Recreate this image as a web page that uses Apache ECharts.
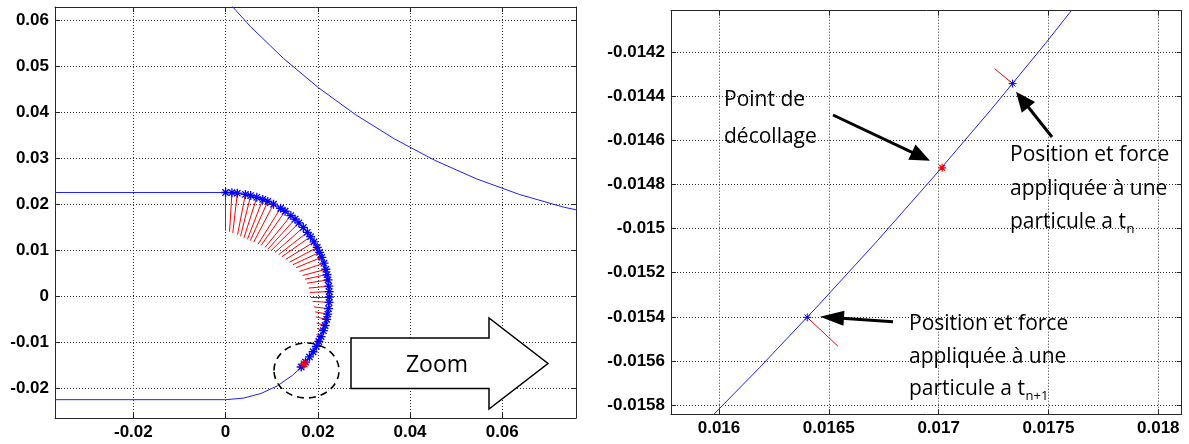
<!DOCTYPE html>
<html><head><meta charset="utf-8">
<script src="https://cdn.jsdelivr.net/npm/echarts@6/dist/echarts.min.js"></script>
<style>html,body{margin:0;padding:0;background:#fff}#c{width:1189px;height:444px}</style>
</head><body><div id="c"></div>
<script>
// ---------------- data ----------------
// inner wall (channel boundary around the cylinder)
const innerWallX = [-0.037, 0, 0.003907, 0.007695, 0.01125, 0.014463, 0.017236, 0.019486, 0.021143, 0.022158, 0.0225,
  0.022158, 0.021143, 0.019486, 0.018203, 0.017969, 0.017730, 0.017486, 0.017236, 0.016981, 0.016721, 0.016455,
  0.016185, 0.015910, 0.015630, 0.015345, 0.014463, 0.01125, 0.007695, 0.003907, 0, -0.037];
const innerWallY = [0.0225, 0.0225, 0.022158, 0.021143, 0.019486, 0.017236, 0.014463, 0.01125, 0.007695, 0.003907, 0,
  -0.003907, -0.007695, -0.01125, -0.013225, -0.013541, -0.013852, -0.014160, -0.014463, -0.014761, -0.015055, -0.015345,
  -0.015630, -0.015910, -0.016185, -0.016455, -0.017236, -0.019486, -0.021143, -0.022158, -0.0225, -0.0225];
// outer wall (large arc, top right)
const outerWallX = [-0.00123, 0.00541, 0.01255, 0.02015, 0.02818, 0.0366, 0.04536, 0.05443, 0.06376, 0.0733, 0.08301];
const outerWallY = [0.0659, 0.05852, 0.05163, 0.04525, 0.03941, 0.03415, 0.02949, 0.02546, 0.02206, 0.01932, 0.01726];
// particles on the wall: polar angle (deg) on the arc of radius particleRadius, and force length (inward +)
const particleRadius = 0.0225;
const particleAngleDeg = [90, 86.5, 83.5, 79, 76, 72.5, 69, 66, 62.5, 58, 55, 51, 48, 45, 41.5, 38, 35, 31.5, 28, 25,
  22, 18.5, 15, 12, 9, 5.5, 2.5, -0.5, -3.5, -7, -10, -13, -16.5, -19.5, -23, -26, -29, -32.5, -36, -39.6, -43.2];
const particleForce = [0.0083, 0.0085, 0.0087, 0.0089, 0.0091, 0.0092, 0.0093, 0.0093, 0.0093, 0.0092, 0.0091, 0.0089,
  0.0087, 0.0085, 0.0082, 0.0079, 0.0076, 0.0072, 0.0068, 0.0064, 0.0060, 0.0056, 0.0052, 0.0049, 0.0046, 0.0044,
  0.0042, 0.0040, 0.0036, 0.0032, 0.0028, 0.0024, 0.0019, 0.0015, 0.0011, 0.0008, 0.0006, 0.0004, 0.0002, 0.000106, -0.000192];
// detachment point
const detachX = [0.017016];
const detachY = [-0.014724];
// ticks
const leftXTicks = [-0.02, 0, 0.02, 0.04, 0.06];
const leftXTickLabels = ['-0.02', '0', '0.02', '0.04', '0.06'];
const leftYTicks = [-0.02, -0.01, 0, 0.01, 0.02, 0.03, 0.04, 0.05, 0.06];
const leftYTickLabels = ['-0.02', '-0.01', '0', '0.01', '0.02', '0.03', '0.04', '0.05', '0.06'];
const rightXTicks = [0.016, 0.0165, 0.017, 0.0175, 0.018];
const rightXTickLabels = ['0.016', '0.0165', '0.017', '0.0175', '0.018'];
const rightYTicks = [-0.0158, -0.0156, -0.0154, -0.0152, -0.015, -0.0148, -0.0146, -0.0144, -0.0142];
const rightYTickLabels = ['-0.0158', '-0.0156', '-0.0154', '-0.0152', '-0.015', '-0.0148', '-0.0146', '-0.0144', '-0.0142'];
// axis ranges
const leftXRange = [-0.0370, 0.0760];
const leftYRange = [-0.02648, 0.06279];
const rightXRange = [0.0157815, 0.0181065];
const rightYRange = [-0.0158422, -0.0140113];

// ---------------- build ----------------
const STAR = 'path://M5,0V10M0,5H10M1.46,1.46L8.54,8.54M1.46,8.54L8.54,1.46';
const particles = [], forces = [];
particleAngleDeg.forEach((a, i) => {
  const t = a * Math.PI / 180, c = Math.cos(t), s = Math.sin(t);
  const p = [particleRadius * c, particleRadius * s];
  const r2 = particleRadius - particleForce[i];
  particles.push(p);
  forces.push({ coords: [p, [r2 * c, r2 * s]] });
});
const innerWall = innerWallX.map((x, i) => [x, innerWallY[i]]);
const outerWall = outerWallX.map((x, i) => [x, outerWallY[i]]);
const detach = detachX.map((x, i) => [x, detachY[i]]);

function labelFor(v, ticks, labels) {
  let best = 0;
  ticks.forEach((t, i) => { if (Math.abs(t - v) < Math.abs(ticks[best] - v)) best = i; });
  return labels[best];
}
function mkAxis(grid, pos, range, ticks, labels, main) {
  return {
    type: 'value', gridIndex: grid, position: pos, min: range[0], max: range[1], scale: true,
    axisLine: { show: true, onZero: false, lineStyle: { color: '#262626', width: 1 } },
    axisTick: { show: true, inside: true, length: 5, customValues: ticks, lineStyle: { color: '#262626', width: 1 } },
    axisLabel: { show: main, customValues: ticks, formatter: v => labelFor(v, ticks, labels),
      color: '#000', fontFamily: 'Liberation Sans', fontWeight: 'bold', fontSize: 17, margin: 6 },
    splitLine: { show: main, lineStyle: { color: '#333', type: [1, 2], width: 1 } }
  };
}
function seriesFor(xi, yi, starSize, starWidth) {
  return [
    { type: 'line', xAxisIndex: xi, yAxisIndex: yi, data: innerWall, symbol: 'none', showSymbol: false,
      lineStyle: { color: '#1f1fff', width: 1 }, z: 2, silent: true, clip: true },
    { type: 'line', xAxisIndex: xi, yAxisIndex: yi, data: outerWall, symbol: 'none', showSymbol: false,
      lineStyle: { color: '#1f1fff', width: 1 }, z: 2, silent: true, clip: true },
    { type: 'lines', coordinateSystem: 'cartesian2d', xAxisIndex: xi, yAxisIndex: yi, data: forces,
      lineStyle: { color: '#ff0000', width: 1, opacity: 1 }, z: 3, silent: true, clip: true },
    { type: 'scatter', xAxisIndex: xi, yAxisIndex: yi, data: particles, symbol: STAR, symbolSize: starSize,
      itemStyle: { color: '#0000ff', borderColor: '#0000ff', borderWidth: starWidth, opacity: 1 }, z: 4, silent: true, clip: true },
    { type: 'scatter', xAxisIndex: xi, yAxisIndex: yi, data: detach, symbol: STAR, symbolSize: starSize,
      itemStyle: { color: '#ff0000', borderColor: '#ff0000', borderWidth: starWidth + 0.2, opacity: 1 }, z: 5, silent: true, clip: true }
  ];
}

// annotations
const graphics = [];
function arrow(tail, tip, lw, hl, hw) {
  const dx = tip[0] - tail[0], dy = tip[1] - tail[1], len = Math.hypot(dx, dy), ux = dx / len, uy = dy / len;
  const bx = tip[0] - ux * hl, by = tip[1] - uy * hl;
  graphics.push({ type: 'line', shape: { x1: tail[0], y1: tail[1], x2: bx + ux * 2, y2: by + uy * 2 },
    style: { stroke: '#000', lineWidth: lw }, z: 100 });
  graphics.push({ type: 'polygon', shape: { points: [tip, [bx - uy * hw / 2, by + ux * hw / 2], [bx + uy * hw / 2, by - ux * hw / 2]] },
    style: { fill: '#000' }, z: 100 });
}
const FONT = '21px "Open Sans"';
const mctx = document.createElement('canvas').getContext('2d');
function txt(x, y, s, font, align) {
  graphics.push({ type: 'text', x: x, y: y, z: 101,
    style: { text: s, font: font || FONT, fill: '#000', textAlign: align || 'left', textVerticalAlign: 'middle' } });
}
function txtSub(x, y, main, sub) {
  txt(x, y, main);
  mctx.font = FONT;
  const w = mctx.measureText(main).width;
  txt(x + w + 0.5, y + 7, sub, '13px "Open Sans"');
}
// Zoom block arrow
graphics.push({ type: 'polygon', z: 100,
  shape: { points: [[351, 338], [489, 338], [489, 318], [548, 363.5], [489, 409], [489, 388.5], [351, 388.5]] },
  style: { fill: '#fff', stroke: '#000', lineWidth: 1.5 } });
txt(437, 365, 'Zoom', '23px "Open Sans"', 'center');
// dashed circle around detachment region
graphics.push({ type: 'ellipse', z: 100, shape: { cx: 306.5, cy: 370.5, rx: 32.5, ry: 27.5 },
  style: { fill: 'rgba(0,0,0,0)', stroke: '#000', lineWidth: 1.6, lineDash: [7, 5] } });
// right-panel annotations
txt(724, 100, 'Point de');
txt(724, 136.7, 'décollage');
arrow([833, 115], [930, 160.7], 3, 20, 17);
txt(1010, 155.4, 'Position et force');
txt(1010, 189.4, 'appliquée à une');
txtSub(1010, 222.4, 'particule a t', 'n');
arrow([1052, 137], [1016, 91.7], 3, 20, 17);
txt(909, 324.4, 'Position et force');
txt(909, 356.7, 'appliquée à une');
txtSub(909, 389.4, 'particule a t', 'n+1');
arrow([893, 321.7], [820, 316.7], 3, 24, 15);

const chart = echarts.init(document.getElementById('c'), null, { renderer: 'canvas' });
chart.setOption({
  animation: false,
  backgroundColor: '#fff',
  grid: [
    { left: 55, top: 7, width: 521, height: 411 },
    { left: 671, top: 10.7, width: 510.7, height: 403.6 }
  ],
  xAxis: [
    mkAxis(0, 'bottom', leftXRange, leftXTicks, leftXTickLabels, true),
    mkAxis(0, 'top', leftXRange, leftXTicks, leftXTickLabels, false),
    mkAxis(1, 'bottom', rightXRange, rightXTicks, rightXTickLabels, true),
    mkAxis(1, 'top', rightXRange, rightXTicks, rightXTickLabels, false)
  ],
  yAxis: [
    mkAxis(0, 'left', leftYRange, leftYTicks, leftYTickLabels, true),
    mkAxis(0, 'right', leftYRange, leftYTicks, leftYTickLabels, false),
    mkAxis(1, 'left', rightYRange, rightYTicks, rightYTickLabels, true),
    mkAxis(1, 'right', rightYRange, rightYTicks, rightYTickLabels, false)
  ],
  series: seriesFor(0, 0, 9, 1.3).concat(seriesFor(2, 2, 8, 1)),
  graphic: { elements: graphics }
});
</script></body></html>
